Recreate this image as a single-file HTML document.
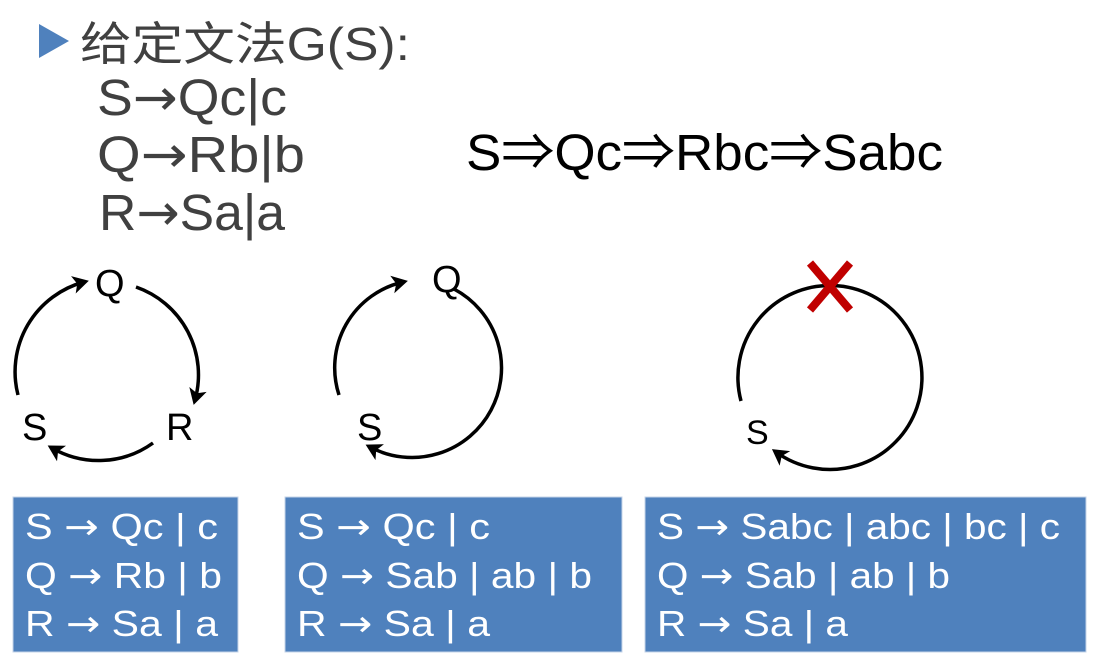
<!DOCTYPE html>
<html><head><meta charset="utf-8"><style>
html,body{margin:0;padding:0;background:#fff;width:1095px;height:664px;overflow:hidden}
svg{display:block}
text{font-family:"Liberation Sans","Noto Sans CJK SC",sans-serif}
.ar{font-family:"DejaVu Sans",sans-serif}
</style></head><body>
<svg width="1095" height="664" viewBox="0 0 1095 664">
<defs>
<marker id="ah" viewBox="-15 -15 30 30" refX="0" refY="0" markerWidth="30" markerHeight="30" orient="auto" markerUnits="userSpaceOnUse">
<path d="M-11,-9 L5,0 L-11,9 L-7,0 Z" fill="#000"/>
</marker>
</defs>
<polygon points="39,24 39,58 69,41" fill="#4f81bd"/>
<text x="80" y="60" font-size="46" fill="#404040" textLength="330" lengthAdjust="spacingAndGlyphs">给定文法G(S):</text>
<g fill="#404040" font-size="51">
<text x="97" y="115" textLength="190" lengthAdjust="spacingAndGlyphs">S<tspan class="ar">→</tspan>Qc|c</text>
<text x="97" y="172" textLength="208" lengthAdjust="spacingAndGlyphs">Q<tspan class="ar">→</tspan>Rb|b</text>
<text x="99" y="230" textLength="186" lengthAdjust="spacingAndGlyphs">R<tspan class="ar">→</tspan>Sa|a</text>
</g>
<text x="466" y="170" font-size="51" fill="#000" textLength="477" lengthAdjust="spacingAndGlyphs">S⇒Qc⇒Rbc⇒Sabc</text>

<g fill="none" stroke="#000" stroke-width="3.5">
<path d="M18,395 A93,93 0 0 1 84,282" marker-end="url(#ah)"/>
<path d="M136,287 A93,93 0 0 1 195,400" marker-end="url(#ah)"/>
<path d="M153,443 A93,93 0 0 1 52,448" marker-end="url(#ah)"/>
</g>
<g font-size="38" fill="#000">
<text x="95" y="296">Q</text>
<text x="22" y="440">S</text>
<text x="166" y="440">R</text>
</g>

<g fill="none" stroke="#000" stroke-width="3.5">
<path d="M339,395 A88,88 0 0 1 403,282" marker-end="url(#ah)"/>
<path d="M454,289 A88,88 0 1 1 370,447" marker-end="url(#ah)"/>
</g>
<g font-size="38" fill="#000">
<text x="432" y="292">Q</text>
<text x="357" y="440">S</text>
</g>

<g fill="none" stroke="#000" stroke-width="3.5">
<path d="M741,401 A92,92 0 1 1 776,452" marker-end="url(#ah)"/>
</g>
<text x="746" y="444" font-size="34" fill="#000">S</text>
<g stroke="#c00000" stroke-width="8">
<line x1="810" y1="263" x2="850" y2="310"/>
<line x1="850" y1="263" x2="810" y2="310"/>
</g>

<g>
<rect x="13" y="497" width="225" height="155" fill="#4f81bd" stroke="#c6d4e8" stroke-width="1"/>
<g fill="#fff" font-size="36">
<text x="25" y="539" textLength="193" lengthAdjust="spacingAndGlyphs">S <tspan class="ar">→</tspan> Qc | c</text>
<text x="25" y="588" textLength="197" lengthAdjust="spacingAndGlyphs">Q <tspan class="ar">→</tspan> Rb | b</text>
<text x="25" y="636" textLength="193" lengthAdjust="spacingAndGlyphs">R <tspan class="ar">→</tspan> Sa | a</text>
</g></g>
<g>
<rect x="285" y="497" width="337" height="155" fill="#4f81bd" stroke="#c6d4e8" stroke-width="1"/>
<g fill="#fff" font-size="36">
<text x="297" y="539" textLength="193" lengthAdjust="spacingAndGlyphs">S <tspan class="ar">→</tspan> Qc | c</text>
<text x="297" y="588" textLength="295" lengthAdjust="spacingAndGlyphs">Q <tspan class="ar">→</tspan> Sab | ab | b</text>
<text x="297" y="636" textLength="193" lengthAdjust="spacingAndGlyphs">R <tspan class="ar">→</tspan> Sa | a</text>
</g></g>
<g>
<rect x="645" y="497" width="441" height="155" fill="#4f81bd" stroke="#c6d4e8" stroke-width="1"/>
<g fill="#fff" font-size="36">
<text x="657" y="539" textLength="403" lengthAdjust="spacingAndGlyphs">S <tspan class="ar">→</tspan> Sabc | abc | bc | c</text>
<text x="657" y="588" textLength="293" lengthAdjust="spacingAndGlyphs">Q <tspan class="ar">→</tspan> Sab | ab | b</text>
<text x="657" y="636" textLength="191" lengthAdjust="spacingAndGlyphs">R <tspan class="ar">→</tspan> Sa | a</text>
</g></g>
</svg>
</body></html>
